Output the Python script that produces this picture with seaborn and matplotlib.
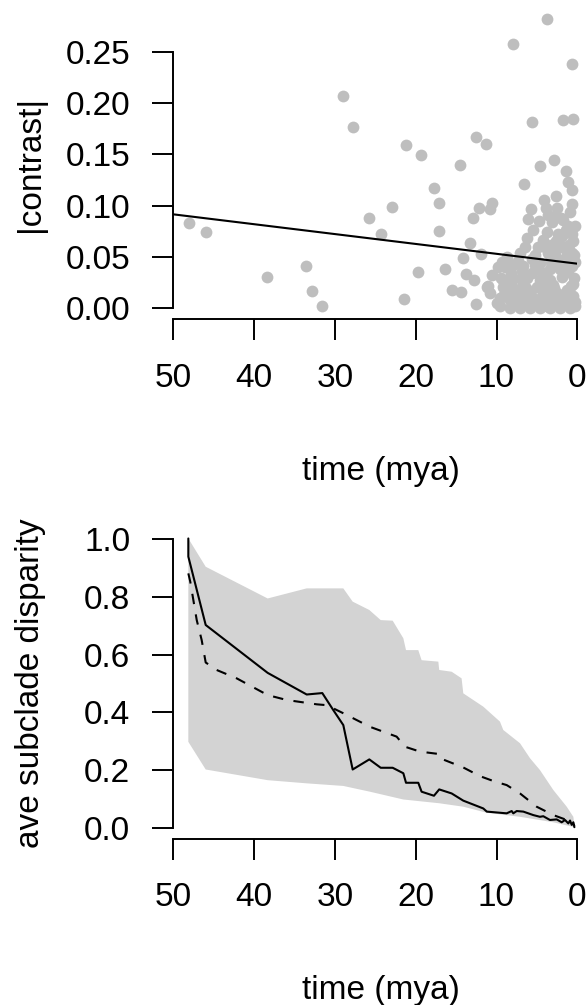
import numpy as np
import pandas as pd
import matplotlib
matplotlib.use("Agg")
import matplotlib.pyplot as plt
import seaborn as sns

# |contrast| vs node age (mya)
contrast_time = [3.79, 7.92, 0.69, 29.0, 27.8, 5.57, 1.73, 0.49, 12.57, 11.34,
                 21.24, 19.34, 14.55, 4.62, 2.85, 1.44, 1.11, 6.63, 17.77, 17.08,
                 22.93, 25.78, 24.33, 48.1, 46.0, 17.15, 12.17, 10.84, 10.59, 12.87,
                 5.77, 13.24, 11.88, 14.1, 38.37, 33.54, 32.8, 31.6, 21.45, 19.68,
                 16.34, 15.51, 14.36, 13.78, 12.82, 12.57, 10.56, 11.0, 10.8,
                 4.12, 2.67, 3.87, 2.55, 0.69, 0.90, 6.06, 4.70, 3.17, 1.73,
                 1.11, 5.45, 6.26, 3.79, 4.21, 1.93, 0.49, 2.14, 0.69, 3.59,
                 5.24, 7.09, 8.74, 9.36, 7.92, 6.68, 4.62, 2.97, 0.69, 7.92,
                 6.68, 4.21, 1.93, 0.49, 9.16, 7.50, 5.03, 2.97, 1.31, 9.57,
                 8.33, 6.68, 5.64, 3.59, 2.14, 0.69, 9.57, 8.33, 7.09, 5.85,
                 4.62, 3.38, 2.14, 0.90, 0.28, 6.68, 5.03, 9.16, 3.38, 1.93,
                 0.28, 5.64, 4.41, 11.2, 8.74, 2.55, 1.31, 6.47,
                 1.5, 3.0, 4.0, 5.5, 7.8, 0.4, 0.5, 1.0, 2.4, 3.3,
                 1.6, 8.0, 6.2, 9.8, 0.3, 4.9, 2.8, 0.6, 3.6,
                 0.3, 0.8, 1.2, 1.8, 2.3, 2.9, 3.4, 4.0, 4.6, 5.2,
                 5.8, 6.4, 7.0, 7.6, 8.2, 8.9, 9.4,
                 0.4, 1.0, 1.6, 2.2, 2.7, 3.2, 3.8, 4.4, 5.0, 5.6,
                 6.0, 6.8, 7.3, 8.0, 8.6, 9.2, 9.9, 0.6, 1.4, 2.0,
                 2.6, 3.1, 3.7]
contrast_vals = [0.282, 0.258, 0.238, 0.207, 0.177, 0.182, 0.184, 0.185, 0.167, 0.160,
                 0.159, 0.149, 0.140, 0.139, 0.145, 0.134, 0.123, 0.121, 0.117, 0.103,
                 0.099, 0.088, 0.072, 0.083, 0.074, 0.075, 0.098, 0.097, 0.103, 0.088,
                 0.097, 0.064, 0.053, 0.049, 0.0305, 0.041, 0.017, 0.002, 0.009, 0.035,
                 0.0386, 0.018, 0.016, 0.033, 0.028, 0.004, 0.032, 0.022, 0.015,
                 0.106, 0.109, 0.098, 0.098, 0.102, 0.094, 0.087, 0.085, 0.084, 0.086,
                 0.080, 0.076, 0.069, 0.074, 0.067, 0.070, 0.066, 0.060, 0.054, 0.054,
                 0.052, 0.054, 0.050, 0.045, 0.042, 0.041, 0.044, 0.041, 0.041, 0.029,
                 0.024, 0.034, 0.031, 0.024, 0.021, 0.018, 0.021, 0.023, 0.018, 0.010,
                 0.008, 0.010, 0.011, 0.013, 0.008, 0.010, 0.002, 0.000, 0.000, 0.000,
                 0.000, 0.000, 0.000, 0.000, 0.002, 0.005, 0.006, 0.028, 0.028, 0.047,
                 0.045, 0.034, 0.024, 0.021, 0.015, 0.015, 0.054, 0.060,
                 0.005, 0.004, 0.008, 0.003, 0.012, 0.030, 0.012, 0.062, 0.072, 0.062,
                 0.038, 0.020, 0.030, 0.040, 0.080, 0.060, 0.090, 0.115, 0.091,
                 0.006, 0.022, 0.035, 0.012, 0.046, 0.020, 0.038, 0.018, 0.028, 0.042,
                 0.016, 0.020, 0.030, 0.006, 0.034, 0.040, 0.030,
                 0.052, 0.048, 0.060, 0.038, 0.052, 0.045, 0.058, 0.012, 0.040, 0.048,
                 0.004, 0.036, 0.046, 0.003, 0.026, 0.012, 0.005, 0.072, 0.076, 0.088,
                 0.066, 0.010, 0.002]

# fitted line endpoints
fit_time = [50, 0]
fit_vals = [0.0916, 0.0435]

# observed disparity through time (solid)
obs_time = [48.14, 48.14, 45.99, 38.32, 33.49, 31.56, 30.2, 28.96, 27.8, 25.74,
            24.33, 22.85, 21.53, 21.2, 19.68, 19.27, 17.74, 17.09, 15.55, 14.11,
            11.64, 11.2, 8.74, 8.12, 7.92, 7.5, 6.68, 5.45, 4.62, 4.21,
            3.38, 2.55, 1.93, 1.52, 1.11, 0.90, 0.69, 0.49, 0.36]
obs_vals = [1.003, 0.940, 0.703, 0.537, 0.462, 0.467, 0.408, 0.356, 0.202, 0.237,
            0.208, 0.208, 0.189, 0.156, 0.156, 0.125, 0.111, 0.133, 0.119, 0.094,
            0.067, 0.056, 0.050, 0.058, 0.050, 0.058, 0.056, 0.044, 0.038, 0.040,
            0.027, 0.029, 0.019, 0.027, 0.015, 0.025, 0.010, 0.019, 0.002]

# simulated median (dashed)
sim_time = [48.14, 47.9, 47.1, 46.49, 45.99, 44.63, 42.15, 38.32, 35.97, 32.25,
            31.0, 28.96, 25.66, 22.36, 21.33, 19.47, 17.2, 16.99, 14.11, 12.05,
            10.19, 8.74, 7.09, 5.03, 2.97, 1.31, 0.49, 0.36]
sim_vals = [0.882, 0.853, 0.720, 0.651, 0.573, 0.547, 0.518, 0.460, 0.443, 0.428,
            0.425, 0.397, 0.350, 0.316, 0.281, 0.264, 0.256, 0.241, 0.209, 0.179,
            0.160, 0.148, 0.119, 0.073, 0.044, 0.027, 0.015, 0.006]

# simulated 95% band
upper_time = [48.14, 45.99, 38.32, 33.49, 28.96, 27.8, 25.74, 24.33, 22.85, 21.53,
              21.2, 19.68, 19.27, 17.2, 17.09, 15.55, 14.32, 14.11, 11.64, 9.57,
              9.16, 7.09, 5.85, 4.62, 2.97, 1.31, 0.49, 0.36]
upper_vals = [1.003, 0.905, 0.795, 0.830, 0.830, 0.784, 0.755, 0.720, 0.718, 0.657,
              0.616, 0.616, 0.581, 0.576, 0.547, 0.541, 0.518, 0.466, 0.420, 0.368,
              0.339, 0.293, 0.241, 0.200, 0.131, 0.073, 0.038, 0.008]
lower_time = [48.14, 45.99, 38.32, 33.49, 28.96, 25.66, 21.53, 17.09, 14.11, 11.2,
              7.09, 2.97, 0.36]
lower_vals = [0.298, 0.202, 0.165, 0.154, 0.145, 0.125, 0.098, 0.085, 0.073, 0.052,
              0.038, 0.019, 0.002]

time_ticks = [50, 40, 30, 20, 10, 0]

sns.set_style("ticks")
plt.rcParams['font.family'] = ['Liberation Sans', 'DejaVu Sans']
plt.rcParams['font.size'] = 24
for key in ['text.color', 'axes.labelcolor', 'xtick.color', 'ytick.color', 'axes.edgecolor']:
    plt.rcParams[key] = 'black'

W, H = 587, 1005
fig = plt.figure(figsize=(W / 100, H / 100), dpi=100)

def px_axes(left, right, top, bottom):
    return fig.add_axes([left / W, 1 - bottom / H, (right - left) / W, (bottom - top) / H])

ax1 = px_axes(173.3, 577.3, 8, 319.5)
ax2 = px_axes(173.3, 577.3, 527.8, 839.3)

# top panel
df1 = pd.DataFrame({'time': contrast_time, 'contrast': contrast_vals})
sns.scatterplot(data=df1, x='time', y='contrast', ax=ax1, color='#bebebe',
                s=72, linewidth=0, alpha=1, clip_on=False, zorder=2)
sns.lineplot(x=fit_time, y=fit_vals, ax=ax1, color='black', lw=1.5,
             estimator=None, sort=False, zorder=3)
ax1.set_xlim(50, 0)
ax1.set_ylim(-0.0109, 0.2927)
ax1.set_yticks([0.0, 0.05, 0.10, 0.15, 0.20, 0.25])
ax1.set_yticklabels(['0.00', '0.05', '0.10', '0.15', '0.20', '0.25'])
ax1.set_ylabel('|contrast|')

# bottom panel
band_x = upper_time + lower_time[::-1]
band_y = upper_vals + lower_vals[::-1]
ax2.fill(band_x, band_y, color='#d3d3d3', lw=0, zorder=1)
sns.lineplot(x=sim_time, y=sim_vals, ax=ax2, color='black', lw=1.5,
             estimator=None, sort=False, zorder=3)
ax2.lines[-1].set_dashes((5, 5))
sns.lineplot(x=obs_time, y=obs_vals, ax=ax2, color='black', lw=1.5,
             estimator=None, sort=False, zorder=4)
ax2.set_xlim(50, 0)
ax2.set_ylim(-0.04, 1.04)
ax2.set_yticks([0.0, 0.2, 0.4, 0.6, 0.8, 1.0])
ax2.set_yticklabels(['0.0', '0.2', '0.4', '0.6', '0.8', '1.0'])
ax2.set_ylabel('ave subclade disparity')

for ax, ytop in [(ax1, 0.25), (ax2, 1.0)]:
    ax.set_xticks(time_ticks)
    ax.set_xticklabels([str(t) for t in time_ticks])
    ax.set_xlabel('time (mya)', color='black')
    ax.yaxis.label.set_color('black')
    for s in ['top', 'right']:
        ax.spines[s].set_visible(False)
    ax.spines['left'].set_bounds(0, ytop)
    ax.spines['bottom'].set_bounds(0, 50)
    for s in ['left', 'bottom']:
        ax.spines[s].set_linewidth(1.4)
        ax.spines[s].set_color('black')
    ax.tick_params(axis='both', direction='out', length=15, width=1.4,
                   colors='black', labelcolor='black', labelsize=24, pad=16)
    ax.xaxis.set_label_coords(0.515, -0.437)
    ax.yaxis.set_label_coords(-0.314, 0.5)
    ax.patch.set_visible(False)

fig.savefig('out.png', dpi=100, facecolor='white')
